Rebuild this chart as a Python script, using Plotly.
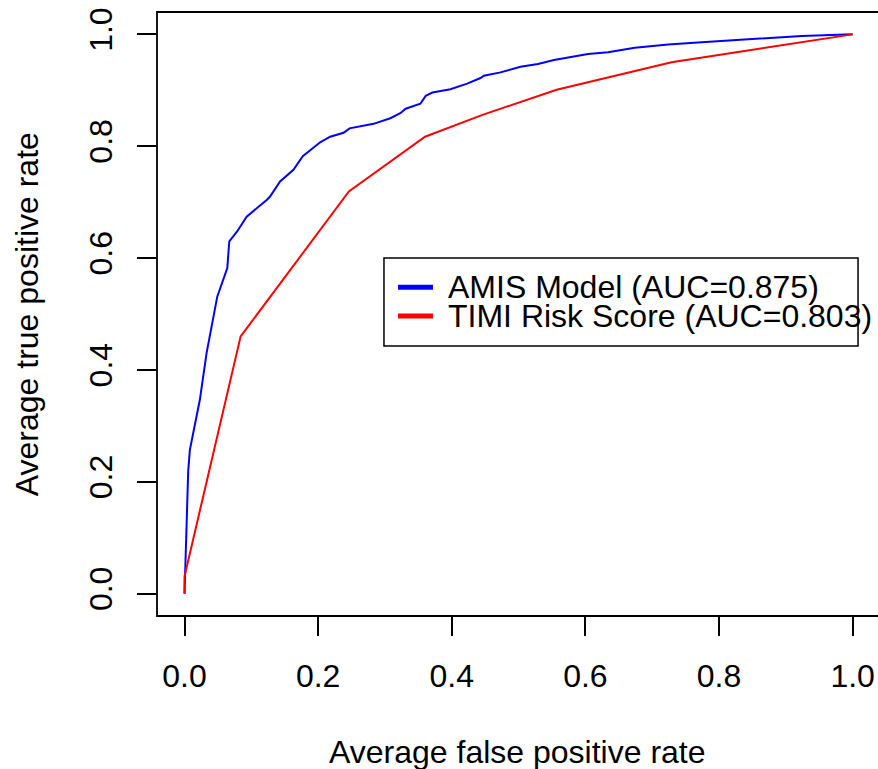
import plotly.graph_objects as go

# ---- data ----
amis_fpr = [0, 0.0055, 0.008, 0.023, 0.033, 0.049, 0.064, 0.067, 0.079, 0.093, 0.123,
            0.128, 0.143, 0.163, 0.177, 0.203, 0.218, 0.238, 0.247, 0.283, 0.308, 0.323,
            0.331, 0.343, 0.353, 0.361, 0.371, 0.398, 0.423, 0.443, 0.448, 0.473, 0.503,
            0.529, 0.553, 0.604, 0.634, 0.674, 0.724, 0.774, 0.824, 0.874, 0.924, 1.0]
amis_tpr = [0, 0.219, 0.257, 0.347, 0.430, 0.531, 0.582, 0.630, 0.648, 0.674, 0.704,
            0.710, 0.737, 0.758, 0.782, 0.807, 0.817, 0.824, 0.832, 0.840, 0.850, 0.859,
            0.867, 0.872, 0.876, 0.890, 0.896, 0.902, 0.912, 0.922, 0.926, 0.932, 0.942,
            0.947, 0.954, 0.965, 0.968, 0.976, 0.982, 0.986, 0.990, 0.994, 0.997, 1.0]

timi_fpr = [0, 0.0, 0.084, 0.246, 0.360, 0.446, 0.557, 0.729, 1.0]
timi_tpr = [0, 0.031, 0.460, 0.719, 0.817, 0.856, 0.901, 0.950, 1.0]

tick_vals = [0.0, 0.2, 0.4, 0.6, 0.8, 1.0]
tick_text = ["0.0", "0.2", "0.4", "0.6", "0.8", "1.0"]

series_names = ["AMIS Model (AUC=0.875)", "TIMI Risk Score (AUC=0.803)"]
series_colors = ["#0000FF", "#FF0000"]

FONT = "Liberation Sans, Arial, Helvetica, sans-serif"
FS = 32

fig = go.Figure()
fig.add_trace(go.Scatter(x=amis_fpr, y=amis_tpr, mode="lines",
                         line=dict(color=series_colors[0], width=2),
                         name=series_names[0], showlegend=False))
fig.add_trace(go.Scatter(x=timi_fpr, y=timi_tpr, mode="lines",
                         line=dict(color=series_colors[1], width=2),
                         name=series_names[1], showlegend=False))

axis_common = dict(
    tickvals=tick_vals, ticktext=tick_text,
    ticks="outside", ticklen=19, tickwidth=1.5, tickcolor="black",
    showgrid=False, zeroline=False, showline=False,
    ticklabeloverflow="allow",
    tickfont=dict(family=FONT, size=FS, color="black"),
)
fig.update_xaxes(range=[-0.0412, 1.038], ticklabelstandoff=13, **axis_common)
fig.update_yaxes(range=[-0.04, 1.04], tickangle=-90, ticklabelstandoff=12, **axis_common)

shapes = [
    # plot box (right side extends past the window edge as in the reference)
    dict(type="rect", xref="paper", yref="paper", x0=0, x1=1.01, y0=0, y1=1,
         line=dict(color="black", width=1.8), layer="above"),
    # legend box
    dict(type="rect", xref="paper", yref="paper", x0=0.3148, x1=0.9723, y0=0.447, y1=0.5927,
         line=dict(color="black", width=1.5), fillcolor="white", layer="above"),
]
legend_rows_y = [0.5442, 0.4967]
annotations = []
for name, col, yy in zip(series_names, series_colors, legend_rows_y):
    shapes.append(dict(type="line", xref="paper", yref="paper", x0=0.3343, x1=0.3828,
                       y0=yy, y1=yy, line=dict(color=col, width=5), layer="above"))
    annotations.append(dict(text=name, xref="paper", yref="paper", x=0.4005, y=yy,
                            xanchor="left", yanchor="middle", showarrow=False,
                            font=dict(family=FONT, size=FS, color="black")))

annotations.append(dict(text="Average false positive rate", xref="paper", yref="paper",
                        x=0.5, y=-0.225, xanchor="center", yanchor="middle", showarrow=False,
                        font=dict(family=FONT, size=FS, color="black")))
annotations.append(dict(text="Average true positive rate", xref="paper", yref="paper",
                        x=-0.180, y=0.5, xanchor="center", yanchor="middle", showarrow=False,
                        textangle=-90, font=dict(family=FONT, size=FS, color="black")))

fig.update_layout(
    width=878, height=769,
    margin=dict(l=157, r=0, t=12, b=153),
    paper_bgcolor="white", plot_bgcolor="white",
    shapes=shapes, annotations=annotations,
    showlegend=False,
    font=dict(family=FONT, size=FS, color="black"),
)

# remove the default 8px page margin so the figure fills the window exactly
fig.write_html("out.html",
               config={"displayModeBar": False},
               post_script="document.body.style.margin='0';document.body.style.overflow='hidden';")
